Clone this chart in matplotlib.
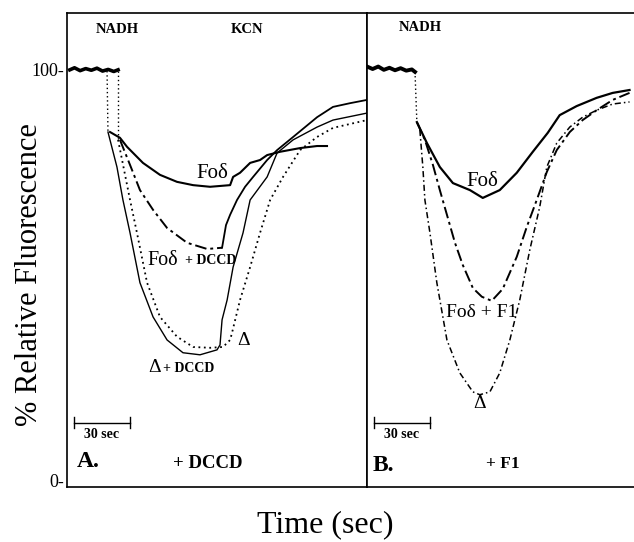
import matplotlib
matplotlib.use("Agg")
import matplotlib.pyplot as plt

plt.rcParams['font.family'] = ['Liberation Serif', 'DejaVu Serif']

# ---- panel A data (time in sec, % relative fluorescence) ----
a_base_t = [1.5, 4, 7, 10, 13, 16, 19, 22, 25, 27.3]
a_base_v = [99.8, 100.3, 99.6, 100.1, 99.7, 100.2, 99.5, 99.9, 99.4, 99.8]

a_fod_t = [23.0, 28.3, 32.1, 40.6, 49.7, 58.8, 67.4, 76.5, 87.2, 88.8, 92.5, 97.9, 103.2, 107.0, 113.9, 124.6, 133.7, 139.0]
a_fod_v = [84.7, 83.3, 81.1, 77.2, 74.3, 72.6, 71.8, 71.4, 71.8, 73.8, 74.8, 77.2, 77.9, 79.1, 79.9, 80.8, 81.3, 81.3]

a_fodd_t = [28.3, 33.7, 39.0, 46.0, 53.5, 64.2, 74.9, 82.9]
a_fodd_v = [82.8, 76.7, 70.6, 65.8, 61.4, 57.8, 56.3, 56.6]
a_fodd_rec_t = [82.9, 85.0, 87.2, 90.9, 95.2, 99.5, 107.0, 112.3, 120.9, 133.7, 142.2, 151.3, 160.4]
a_fodd_rec_v = [56.6, 62.1, 64.6, 68.2, 71.4, 73.8, 77.9, 80.3, 83.5, 88.3, 90.8, 91.7, 92.5]

a_dd_t = [21.9, 26.7, 29.9, 33.7, 39.0, 46.0, 53.5, 62.0, 71.1, 80.2, 81.8,
          82.9, 85.6, 88.8, 94.1, 97.9, 107.0, 112.3, 120.9, 133.7, 142.2, 160.4]
a_dd_v = [84.7, 76.2, 68.2, 60.2, 48.1, 39.8, 34.2, 31.1, 30.6, 31.8, 33.0,
          39.1, 43.9, 51.9, 60.2, 68.2, 73.8, 79.6, 82.8, 85.9, 87.6, 89.3]

a_d_t = [27.3, 30.5, 33.7, 37.4, 42.8, 49.7, 58.8, 67.4, 76.5, 83.4, 87.2, 88.2,
         92.5, 97.9, 103.2, 108.6, 115.5, 124.6, 133.7, 142.2, 160.4]
a_d_v = [82.8, 75.5, 68.2, 60.2, 48.1, 39.8, 35.0, 32.5, 32.3, 32.5, 34.2, 35.9,
         43.9, 51.9, 60.2, 68.2, 73.8, 80.3, 83.5, 85.7, 87.6]

# ---- panel B data ----
b_base_t = [0.5, 3, 6, 9, 12, 15, 18, 21, 24, 25.7]
b_base_v = [100.5, 100.0, 100.6, 99.8, 100.3, 99.7, 100.2, 99.6, 99.9, 99.3]

b_fod_t = [26.7, 32.1, 39.0, 46.0, 55.1, 62.0, 71.1, 80.2, 88.8, 96.8, 103.2, 112.3, 123.0, 131.6, 140.6]
b_fod_v = [87.1, 82.0, 76.2, 72.3, 70.6, 68.7, 70.6, 74.8, 79.9, 84.5, 88.8, 91.0, 93.0, 94.2, 94.9]

b_fodf_t = [26.7, 31.0, 35.3, 39.0, 42.8, 47.1, 51.3, 56.7, 61.5, 66.8, 72.7, 80.2,
            85.6, 90.9, 96.3, 101.6, 108.6, 115.5, 123.0, 131.6, 140.6]
b_fodf_v = [87.1, 82.8, 76.7, 70.6, 64.6, 57.8, 52.4, 46.8, 44.7, 43.7, 46.6, 54.4,
            61.7, 68.2, 75.0, 80.3, 84.7, 87.6, 90.0, 92.5, 94.2]

b_d_t = [28.3, 29.9, 31.0, 33.7, 37.4, 42.8, 49.7, 56.7, 60.4, 65.8, 71.1, 76.5,
         81.8, 87.2, 92.5, 96.3, 101.6, 108.6, 115.5, 123.0, 131.6, 140.6]
b_d_v = [85.2, 76.2, 68.2, 60.2, 48.1, 34.2, 26.2, 21.6, 20.9, 21.6, 26.2, 34.2,
         43.9, 56.1, 66.5, 76.2, 82.0, 85.9, 88.3, 90.0, 91.5, 92.0]

fig = plt.figure(figsize=(6.34, 5.42), dpi=100)
axA = fig.add_axes([0.1057, 0.1015, 0.4732, 0.8745])
axB = fig.add_axes([0.5789, 0.1015, 0.4211, 0.8745])

dashdot = (0, (6, 2, 1.5, 2))
dotted = (0, (1, 2))

# panel A
axA.plot(a_base_t, a_base_v, 'k-', lw=2.6)
axA.plot([21.4, 21.9], [99.5, 84.7], 'k', ls=dotted, lw=1.0)
axA.plot([27.3, 27.3], [99.6, 82.8], 'k', ls=dotted, lw=1.0)
axA.plot(a_fod_t, a_fod_v, 'k-', lw=1.5)
axA.plot(a_fodd_t, a_fodd_v, 'k', ls=dashdot, lw=1.4)
axA.plot(a_fodd_rec_t, a_fodd_rec_v, 'k-', lw=1.3)
axA.plot(a_dd_t, a_dd_v, 'k-', lw=1.0)
axA.plot(a_d_t, a_d_v, 'k', ls=dotted, lw=1.3)

# panel B
axB.plot(b_base_t, b_base_v, 'k-', lw=2.8)
axB.plot([25.7, 26.7], [99.3, 87.1], 'k', ls=dotted, lw=1.0)
axB.plot(b_fod_t, b_fod_v, 'k-', lw=1.6)
axB.plot(b_fodf_t, b_fodf_v, 'k', ls=dashdot, lw=1.4)
axB.plot(b_d_t, b_d_v, 'k', ls=(0, (4, 2, 1, 2)), lw=1.1)

for ax, xmax in ((axA, 160.4), (axB, 143)):
    ax.set_xlim(0, xmax)
    ax.set_ylim(-1.5, 113.6)
    ax.set_xticks([])
    for s in ax.spines.values():
        s.set_linewidth(1.2)
    # 30 sec scale bar
    ax.plot([3.5, 33.5], [14.1, 14.1], 'k-', lw=1.0)
    ax.plot([3.5, 3.5], [12.8, 15.4], 'k-', lw=1.0)
    ax.plot([33.5, 33.5], [12.8, 15.4], 'k-', lw=1.0)
    ax.text(18.7, 11.3, "30 sec", ha='center', va='center', fontsize=10, fontweight='bold')

axA.set_yticks([0, 100])
axA.set_yticklabels(["0-", "100-"], fontsize=13)
axA.tick_params(axis='y', length=0, pad=2)
axB.set_yticks([])
axB.spines['right'].set_visible(False)

# panel A labels
axA.text(26.7, 109.5, "NADH", ha='center', va='center', fontsize=10.5, fontweight='bold')
axA.text(96.3, 109.5, "KCN", ha='center', va='center', fontsize=10.5, fontweight='bold')
axA.text(77.5, 74.6, "Foδ", ha='center', va='center', fontsize=15)
axA.text(42.8, 53.6, "Foδ", ha='left', va='center', fontsize=14.5)
axA.text(63.0, 53.4, "+ DCCD", ha='left', va='center', fontsize=10, fontweight='bold')
axA.text(43.3, 27.4, "Δ", ha='left', va='center', fontsize=14)
axA.text(51.5, 27.2, "+ DCCD", ha='left', va='center', fontsize=10, fontweight='bold')
axA.text(90.9, 34.0, "Δ", ha='left', va='center', fontsize=14)
axA.text(5.3, 4.8, "A.", ha='left', va='center', fontsize=17, fontweight='bold')
axA.text(75.4, 4.2, "+ DCCD", ha='center', va='center', fontsize=13.5, fontweight='bold')

# panel B labels
axB.text(28.3, 110.0, "NADH", ha='center', va='center', fontsize=10.5, fontweight='bold')
axB.text(61.5, 72.8, "Foδ", ha='center', va='center', fontsize=15)
axB.text(61.5, 40.8, "Foδ + F1", ha='center', va='center', fontsize=14)
axB.text(60.4, 18.7, "Δ", ha='center', va='center', fontsize=14)
axB.text(3.2, 3.6, "B.", ha='left', va='center', fontsize=17, fontweight='bold')
axB.text(72.7, 4.0, "+ F1", ha='center', va='center', fontsize=12.5, fontweight='bold')

fig.text(0.047, 0.493, "% Relative Fluorescence", rotation=90, ha='center', va='center', fontsize=22)
fig.text(0.513, 0.031, "Time (sec)", ha='center', va='center', fontsize=23)

fig.savefig("out.png", dpi=100)
